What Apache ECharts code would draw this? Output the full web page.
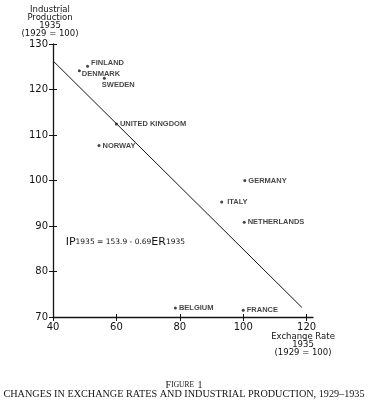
<!DOCTYPE html>
<html>
<head>
<meta charset="utf-8">
<style>
  html, body { margin: 0; padding: 0; background: #fff; }
  #chart { width: 368px; height: 400px; }
</style>
<script src="https://cdn.jsdelivr.net/npm/echarts@6/dist/echarts.min.js"></script>
</head>
<body>
<div id="chart"></div>
<script>
// ---- data ----
const countries = ['FINLAND', 'DENMARK', 'SWEDEN', 'UNITED KINGDOM', 'NORWAY', 'GERMANY', 'ITALY', 'NETHERLANDS', 'BELGIUM', 'FRANCE'];
const exchangeRate = [50.9, 48.3, 56.2, 60.0, 54.5, 100.5, 93.2, 100.3, 78.6, 100.0];
const industrialProduction = [125.1, 124.1, 122.5, 112.4, 107.7, 100.0, 95.3, 90.8, 72.0, 71.5];
const fitLineX = [40, 118.5];
const fitLineY = [126.3, 72.1];
const xTicks = [40, 60, 80, 100, 120];
const yTicks = [70, 80, 90, 100, 110, 120, 130];

const ink = '#141414';
const sans = '"DejaVu Sans", sans-serif';
const labelSans = '"Liberation Sans", Arial, sans-serif';
const serif = '"Liberation Serif", "DejaVu Serif", serif';

// label nudges (style only)
const labelNudge = { 'FINLAND': [0, -3], 'DENMARK': [-1, 3], 'SWEDEN': [-6, 7], 'ITALY': [2, 0] };

const chart = echarts.init(document.getElementById('chart'), null, { renderer: 'canvas' });

const scatterData = countries.map((c, i) => ({
  value: [exchangeRate[i], industrialProduction[i]],
  name: c,
  label: { offset: labelNudge[c] || [0, 0] }
}));

const axisCommon = {
  axisLine: { show: true, lineStyle: { color: ink, width: 1.3 } },
  splitLine: { show: false }
};

const option = {
  backgroundColor: '#fff',
  animation: false,
  grid: { left: 53, right: 55, top: 44, bottom: 83 },
  xAxis: [
    Object.assign({
      type: 'value', min: 40, max: 122, interval: 20,
      axisTick: { show: true, inside: false, length: 4, customValues: xTicks, lineStyle: { color: ink } },
      axisLabel: { customValues: xTicks, color: ink, fontFamily: sans, fontSize: 10, margin: 5 }
    }, axisCommon),
    {
      type: 'value', min: 40, max: 122, interval: 20, position: 'bottom',
      axisLine: { show: false }, splitLine: { show: false }, axisLabel: { show: false },
      axisTick: { show: true, inside: true, length: 3, customValues: xTicks, lineStyle: { color: ink } }
    }
  ],
  yAxis: [
    Object.assign({
      type: 'value', min: 70, max: 130, interval: 10,
      axisTick: { show: true, inside: false, length: 4, customValues: yTicks, lineStyle: { color: ink } },
      axisLabel: { customValues: yTicks, color: ink, fontFamily: sans, fontSize: 10, margin: 5 }
    }, axisCommon),
    {
      type: 'value', min: 70, max: 130, interval: 10, position: 'left',
      axisLine: { show: false }, splitLine: { show: false }, axisLabel: { show: false },
      axisTick: { show: true, inside: true, length: 4, customValues: yTicks, lineStyle: { color: ink } }
    }
  ],
  series: [
    {
      type: 'line',
      data: fitLineX.map((x, i) => [x, fitLineY[i]]),
      symbol: 'none',
      lineStyle: { color: ink, width: 1 },
      silent: true
    },
    {
      type: 'scatter',
      data: scatterData,
      symbol: 'circle',
      symbolSize: 3,
      itemStyle: { color: ink },
      label: {
        show: true,
        position: 'right',
        distance: 2,
        formatter: p => p.name,
        color: ink,
        fontFamily: labelSans,
        fontSize: 7.5,
        fontWeight: 'bold'
      }
    }
  ],
  graphic: [
    {
      type: 'text',
      style: {
        text: 'Industrial\nProduction\n1935\n(1929 = 100)',
        x: 50, y: 6, align: 'center', verticalAlign: 'top',
        font: '8.5px ' + sans, lineHeight: 8, fill: ink
      }
    },
    {
      type: 'text',
      style: {
        text: 'Exchange Rate\n1935\n(1929 = 100)',
        x: 303, y: 333, align: 'center', verticalAlign: 'top',
        font: '8.5px ' + sans, lineHeight: 8, fill: ink
      }
    },
    {
      type: 'text',
      style: {
        text: '{big|F}{sm|IGURE} {big|1}',
        x: 184, y: 385, align: 'center', verticalAlign: 'middle',
        rich: {
          big: { font: '10px ' + serif, fill: ink },
          sm: { font: '7.5px ' + serif, fill: ink }
        }
      }
    },
    {
      type: 'text',
      style: {
        text: 'CHANGES IN EXCHANGE RATES AND INDUSTRIAL PRODUCTION, 1929–1935',
        x: 184, y: 394, align: 'center', verticalAlign: 'middle',
        font: '10.2px ' + serif, fill: ink
      }
    }
  ]
};

chart.setOption(option);

// equation annotation anchored in data space
const eqPos = chart.convertToPixel({ xAxisIndex: 0, yAxisIndex: 0 }, [44.0, 86.5]);
chart.setOption({
  graphic: option.graphic.concat([{
    type: 'text',
    style: {
      text: '{b|IP}{s|1935 = 153.9 - 0.69}{b|ER}{s|1935}',
      x: eqPos[0], y: eqPos[1], align: 'left', verticalAlign: 'middle',
      rich: {
        b: { font: '11px ' + sans, fill: ink },
        s: { font: '7.5px ' + sans, fill: ink }
      }
    }
  }])
});
</script>
</body>
</html>
